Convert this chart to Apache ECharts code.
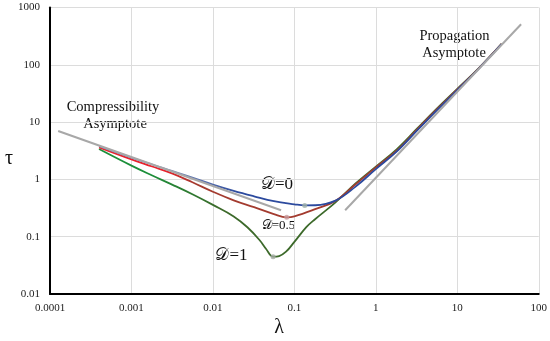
<!DOCTYPE html>
<html><head><meta charset="utf-8">
<script src="https://cdn.jsdelivr.net/npm/echarts/dist/echarts.min.js"></script>
<style>html,body{margin:0;padding:0;background:#fff}#c{width:550px;height:341px}</style>
</head><body><div id="c"></div><script>
// ---- data (λ, τ) ----
const xTickLabels = ['0.0001','0.001','0.01','0.1','1','10','100'];
const yTickLabels = ['0.01','0.1','1','10','100','1000'];

const lamBlue = [0.0004, 0.001, 0.0018, 0.0032, 0.0056, 0.01, 0.018, 0.032, 0.056, 0.1, 0.134, 0.18, 0.32, 0.56, 1, 1.8, 3.2, 5.6, 10, 18, 35];
const tauBlue = [3.80, 2.40, 1.82, 1.40, 1.07, 0.813, 0.631, 0.507, 0.417, 0.368, 0.352, 0.354, 0.427, 0.741, 1.51, 3.05, 7.08, 16.0, 36.3, 83.2, 229];

const lamRed = [0.0004, 0.001, 0.0018, 0.0032, 0.0056, 0.01, 0.018, 0.032, 0.056, 0.0805, 0.1, 0.18, 0.32, 0.56, 1, 1.8, 3.2, 5.6, 10, 18, 35];
const tauRed = [3.63, 2.24, 1.68, 1.26, 0.891, 0.610, 0.432, 0.327, 0.248, 0.218, 0.226, 0.302, 0.422, 0.813, 1.62, 3.16, 7.41, 16.6, 37.2, 84.1, 231];

const lamGreen = [0.0004, 0.001, 0.0018, 0.0032, 0.0056, 0.01, 0.018, 0.0265, 0.0373, 0.045, 0.0548, 0.065, 0.079, 0.1, 0.141, 0.178, 0.32, 0.56, 1, 1.8, 3.2, 5.6, 10, 18, 35];
const tauGreen = [3.39, 1.74, 1.17, 0.804, 0.550, 0.359, 0.226, 0.146, 0.0876, 0.061, 0.0448, 0.046, 0.0547, 0.0813, 0.148, 0.200, 0.398, 0.841, 1.67, 3.35, 7.67, 17.2, 38.0, 85.1, 233];

const lamCompAsym = [0.000126, 0.0687];
const tauCompAsym = [7.0, 0.29];
const lamPropAsym = [0.42, 60.7];
const tauPropAsym = [0.29, 509];

const minLam = [0.134, 0.0805, 0.0548];
const minTau = [0.352, 0.218, 0.0448];

const pair = (a, b) => a.map((v, i) => [v, b[i]]);
const chart = echarts.init(document.getElementById('c'), null, {renderer: 'canvas'});
const serif = 'Liberation Serif, Times New Roman, serif';
const grad = (c1, c2, x0, x1) => new echarts.graphic.LinearGradient(x0, 0, x1, 0, [{offset: 0, color: c1}, {offset: 1, color: c2}], true);
const txt = (text, x, y, size) => ({type: 'text', x, y, style: {text, font: size + 'px ' + serif, fill: '#111',
  align: 'center', verticalAlign: 'middle', textAlign: 'center', textVerticalAlign: 'middle'}});

chart.setOption({
  animation: false,
  backgroundColor: '#fff',
  grid: {left: 50, right: 10, top: 7.5, bottom: 47, containLabel: false},
  xAxis: {
    type: 'log', logBase: 10, min: 0.0001, max: 100,
    axisLine: {show: true, onZero: false, lineStyle: {color: '#000', width: 2}},
    axisTick: {show: false},
    minorTick: {show: false},
    splitLine: {show: true, lineStyle: {color: '#dcdcdc', width: 1}},
    axisLabel: {margin: 9, color: '#222', fontFamily: serif, fontSize: 11,
      formatter: v => xTickLabels[Math.round(Math.log10(v)) + 4]}
  },
  yAxis: {
    type: 'log', logBase: 10, min: 0.01, max: 1000,
    axisLine: {show: true, onZero: false, lineStyle: {color: '#000', width: 2}},
    axisTick: {show: false},
    splitLine: {show: true, lineStyle: {color: '#dcdcdc', width: 1}},
    axisLabel: {margin: 10, color: '#222', fontFamily: serif, fontSize: 11,
      formatter: v => yTickLabels[Math.round(Math.log10(v)) + 2]}
  },
  series: [
    {type: 'line', data: pair(lamGreen, tauGreen), smooth: 0.4, showSymbol: false,
      lineStyle: {width: 1.8, color: grad('#1c8f3a', '#3d6a2b', 150, 220)}, z: 2},
    {type: 'line', data: pair(lamRed, tauRed), smooth: 0.4, showSymbol: false,
      lineStyle: {width: 1.8, color: grad('#e8222c', '#a33b2f', 165, 195)}, z: 3},
    {type: 'line', data: pair(lamBlue, tauBlue), smooth: 0.4, showSymbol: false,
      lineStyle: {width: 1.8, color: grad('#7d8fb8', '#2c4a9e', 170, 240)}, z: 4},
    {type: 'line', data: pair(lamCompAsym, tauCompAsym), showSymbol: false,
      lineStyle: {width: 2, color: '#a8a8a8'}, z: 5},
    {type: 'line', data: pair(lamPropAsym, tauPropAsym), showSymbol: false,
      lineStyle: {width: 2, color: '#a8a8a8'}, z: 5},
    {type: 'scatter', data: pair(minLam, minTau), symbolSize: 5, z: 6,
      itemStyle: {color: p => ['#9fb0a8', '#c79a9c', '#a3aaa3'][p.dataIndex]}}
  ],
  graphic: [
    txt('Compressibility', 113, 107, 14.5),
    txt('Asymptote', 115, 124, 14.5),
    txt('Propagation', 454.5, 36, 14.5),
    txt('Asymptote', 454, 53, 14.5),
    txt('𝒟=0', 277, 185, 17),
    txt('𝒟=0.5', 278.5, 226, 13),
    txt('𝒟=1', 231.5, 256, 17),
    txt('λ', 279, 328, 20),
    txt('τ', 9, 159, 20)
  ]
});
</script></body></html>
